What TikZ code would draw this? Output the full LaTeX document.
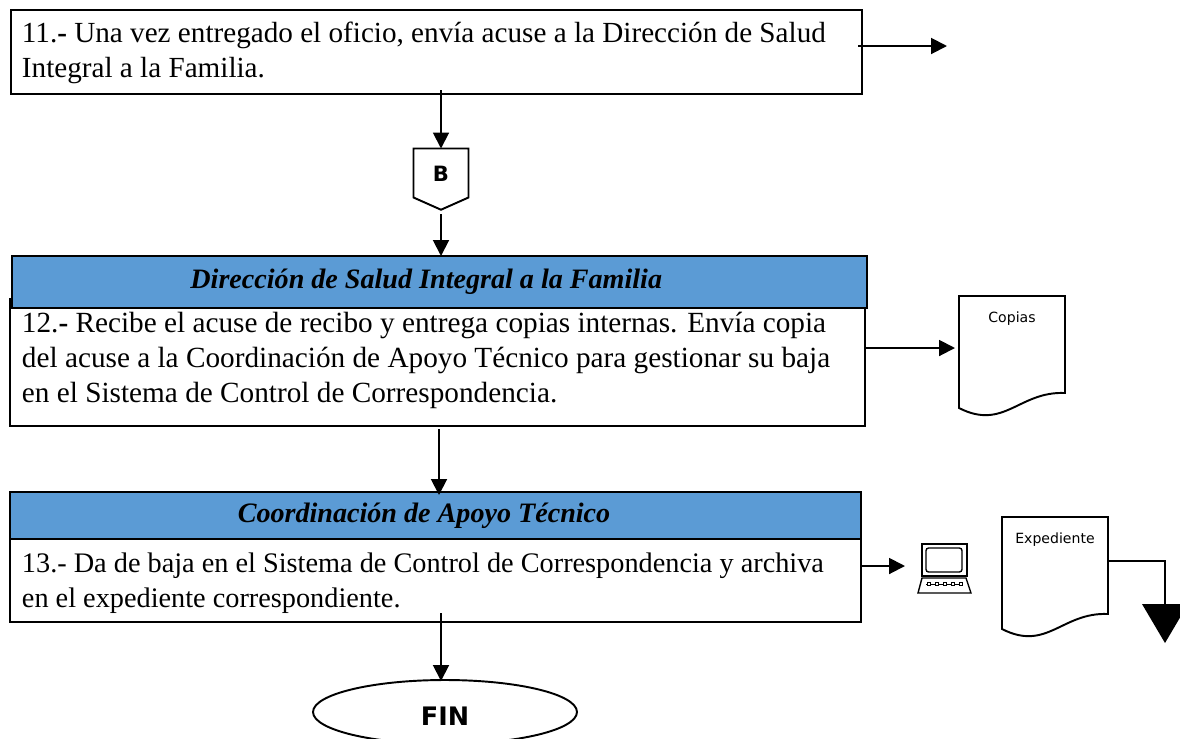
\documentclass[tikz,border=0pt]{standalone}
\usepackage{fontspec}
\setmainfont{Liberation Serif}
\newfontfamily\tahoma{DejaVu Sans}
\usetikzlibrary{shapes.geometric,shapes.symbols,arrows.meta,calc}
\definecolor{azulcab}{RGB}{91,155,213}
\tikzset{
    caja/.style={draw, anchor=north west, minimum width=#1, inner sep=0pt, outer sep=0pt},
    texto/.style={anchor=west, align=left, inner sep=0pt, font=\fontsize{16.6}{19.9}\selectfont},
    cabecera/.style={caja=#1, fill=azulcab, font=\fontsize{16}{19}\selectfont\itshape\bfseries},
    flecha/.style={-{Triangle[length=9pt,width=9pt]}},
    hoja/.style={anchor=north west, minimum width=2.12cm, minimum height=2.4cm, inner sep=0pt, outer sep=0pt},
    rotulo/.style={font=\tahoma\fontsize{8}{10}\selectfont},
}
\begin{document}
\begin{tikzpicture}[x={(0.02cm,0)},y={(0,-0.02cm)},line width=1.1pt]
    \clip (0,0) rectangle (1180,738);
    \fill[white] (0,0) rectangle (1180,738);

    % Cajas
    \node[caja=17.02cm, minimum height=1.68cm] (caja11) at (11,10) {};
    \node[texto] (txt11) at (21,53) {11.\textbf{-} Una vez entregado el oficio, envía acuse a la Dirección de Salud\\Integral a la Familia.};
    \node[caja=17.1cm, minimum height=2.54cm] (caja12) at (10,299) {};
    \node[texto, font=\fontsize{16.65}{19.9}\selectfont] (txt12) at (21,360) {12.\textbf{-} Recibe el acuse de recibo y entrega copias internas. Envía copia\\del acuse a la Coordinación de Apoyo Técnico para gestionar su baja\\en el Sistema de Control de Correspondencia.};
    \node[caja=17.02cm, minimum height=1.68cm] (caja13) at (10,538) {};
    \node[texto, font=\fontsize{16.1}{19.9}\selectfont] (txt13) at (21,583) {13.- Da de baja en el Sistema de Control de Correspondencia y archiva\\en el expediente correspondiente.};

    % Cabeceras
    \node[cabecera=17.1cm, minimum height=1.04cm] (dir) at (12,256) {Dirección de Salud Integral a la Familia\hspace*{15pt}};
    \node[cabecera=17.02cm, minimum height=0.94cm] (coord) at (10,492) {Coordinación de Apoyo Técnico\hspace*{13pt}};

    % Conector B y FIN
    \node[draw, signal, signal to=south, signal pointer angle=132, minimum width=1.1cm, minimum height=0.98cm, inner sep=0pt, outer sep=0pt] (b) at (441,173) {};
    \node[font=\tahoma\bfseries\fontsize{12}{14}\selectfont] (txtb) at (441,174) {B};
    \node[draw, ellipse, minimum width=5.28cm, minimum height=1.28cm, outer sep=0pt] (fin) at (445,712) {};
    \node[font=\tahoma\bfseries\fontsize{14.5}{16}\selectfont] (txtfin) at (445,716) {FIN};

    % Hojas
    \foreach \n/\x/\y in {Copias/959/296, Expediente/1002/517} {
        \node[hoja] (\n) at (\x,\y) {};
        \draw (\n.north west) -- (\n.north east) -- ($(\n.north east)+(0,97)$)
            .. controls ($(\n.north west)+(60,95)$) and ($(\n.north west)+(45,135)$) .. ($(\n.north west)+(0,112)$) -- cycle;
        \node[rotulo] at ($(\n.north)+(0,22.5)$) {\n};
    }

    % Computadora
    \node[minimum width=1.06cm, minimum height=1cm, inner sep=0pt] (pc) at (945,568) {};
    \begin{scope}[line width=0.8pt]
        \draw (922,544) rectangle (967,576);
        \draw[rounded corners=1.5pt] (926,548) rectangle (962,572);
        \draw (922,578) -- (966,578) -- (971,593) -- (918,593) -- cycle;
        \draw[line width=0.5pt] (926,584) -- (963,584);
        \foreach \k in {929,937,945,953,961} {
            \draw[line width=0.5pt, fill=white] (\k-1.5,582.5) rectangle (\k+1.5,585.5);
        }
    \end{scope}

    % Triangulo
    \node[isosceles triangle, isosceles triangle stretches, shape border rotate=-90, fill=black, minimum width=0.92cm, minimum height=0.78cm, inner sep=0pt, outer sep=0pt, anchor=apex] (tri) at (1165,643) {};

    % Flechas
    \coordinate (s11) at (858,46);
    \coordinate (e11) at (947,46);
    \coordinate (a) at (441,90);
    \coordinate (c) at (441,214);
    \coordinate (d) at (441,256);
    \coordinate (e) at (439,429);
    \coordinate (f) at (439,495);
    \coordinate (g) at (441,613);
    \coordinate (h) at (441,681);
    \coordinate (s12) at (865,348);
    \coordinate (e12) at (955,348);
    \coordinate (s13) at (860,566);
    \coordinate (e13) at (905,566);
    \coordinate (s14) at (1108,561);
    \draw[flecha] (s11) -- (e11);
    \draw[flecha] (a) -- (b.north);
    \draw[flecha] (c) -- (d);
    \draw[flecha] (e) -- (f);
    \draw[flecha] (g) -- (h);
    \draw[flecha] (s12) -- (e12);
    \draw[flecha] (s13) -- (e13);
    \draw (s14) -| (tri.north);
\end{tikzpicture}
\end{document}
